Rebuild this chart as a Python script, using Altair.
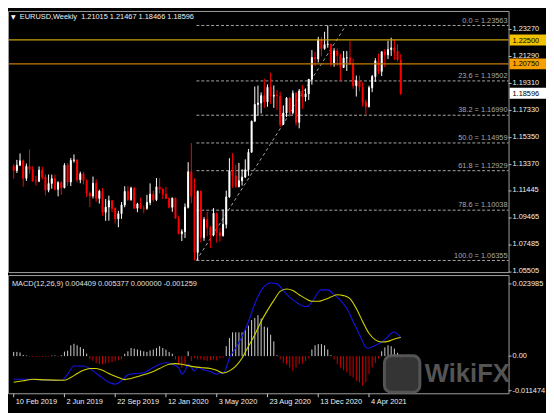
import altair as alt
import pandas as pd

# ---------------- data ----------------
date_labels = ["10 Feb 2019", "2 Jun 2019", "22 Sep 2019", "12 Jan 2020",
               "3 May 2020", "23 Aug 2020", "13 Dec 2020", "4 Apr 2021"]
date_label_week = [0, 16, 32, 48, 64, 80, 96, 112]

opens = [1.1325,1.1294,1.1333,1.1365,1.1237,1.1325,1.1302,1.1217,1.1216,1.1297,
         1.1246,1.1150,1.1200,1.1234,1.1157,1.1205,1.1168,1.1333,1.1210,1.1368,
         1.1372,1.1226,1.1270,1.1220,1.1127,1.1108,1.1201,1.1090,1.1143,1.0989,
         1.1027,1.1073,1.1017,1.0940,1.0978,1.1042,1.1141,1.1081,1.1165,1.1018,
         1.1050,1.1018,1.1017,1.1060,1.1121,1.1080,1.1175,1.1157,1.1120,1.1090,
         1.1025,1.1092,1.0944,1.0831,1.0846,1.1025,1.1285,1.1106,1.0694,1.1142,
         1.0803,1.0935,1.0875,1.0822,1.0982,1.0839,1.0818,1.0900,1.1101,1.1290,
         1.1255,1.1176,1.1219,1.1246,1.1300,1.1428,1.1655,1.1778,1.1788,1.1842,
         1.1796,1.1904,1.1838,1.1845,1.1840,1.1632,1.1715,1.1826,1.1718,1.1860,
         1.1647,1.1876,1.1833,1.1856,1.1962,1.2121,1.2111,1.2254,1.2187,1.2216,
         1.2219,1.2083,1.2170,1.2136,1.2048,1.2118,1.2120,1.2075,1.1915,1.1953,
         1.1904,1.1793,1.1763,1.1900,1.1982,1.2097,1.2020,1.2164,1.2141,1.2180,
         1.2192,1.2167,1.21015]
highs = [1.1342,1.1372,1.1419,1.1375,1.1345,1.1448,1.1326,1.1255,1.1324,1.1323,
         1.1265,1.1265,1.1264,1.1264,1.1216,1.1215,1.1348,1.1348,1.1386,1.1412,
         1.1375,1.1286,1.1283,1.1230,1.1141,1.1250,1.1230,1.1154,1.1165,1.1085,
         1.1110,1.1076,1.1025,1.0999,1.1063,1.1179,1.1179,1.1176,1.1173,1.1058,
         1.1097,1.1036,1.1116,1.1200,1.1146,1.1239,1.1239,1.1164,1.1173,1.1098,
         1.1096,1.1095,1.0964,1.0864,1.1053,1.1355,1.1495,1.1236,1.1147,1.1147,
         1.0953,1.0990,1.0888,1.1019,1.0985,1.0875,1.1009,1.1147,1.1384,1.1422,
         1.1338,1.1350,1.1304,1.1376,1.1452,1.1660,1.1909,1.1916,1.1866,1.1966,
         1.1925,1.2011,1.1917,1.1882,1.1872,1.1771,1.1832,1.1831,1.1881,1.1870,
         1.1891,1.1920,1.1893,1.1964,1.2176,1.2164,1.2273,1.2272,1.2310,1.2356,
         1.2222,1.2190,1.2189,1.2150,1.2169,1.2169,1.2244,1.2113,1.1990,1.1989,
         1.1941,1.1814,1.1915,1.1994,1.2117,1.2150,1.2165,1.2183,1.2245,1.2266,
         1.2254,1.2218,1.21467]
lows = [1.1234,1.1276,1.1328,1.1176,1.1218,1.1270,1.1213,1.1183,1.1209,1.1228,
        1.1112,1.1135,1.1161,1.1149,1.1105,1.1116,1.1164,1.1181,1.1180,1.1352,
        1.1207,1.1201,1.1192,1.1101,1.1027,1.1090,1.1065,1.1052,1.0965,1.0926,
        1.0927,1.0990,1.0905,1.0879,1.0940,1.1025,1.1072,1.1073,1.1015,1.0989,
        1.1015,1.0981,1.1007,1.1040,1.1065,1.1070,1.1126,1.1086,1.1085,1.1017,
        1.0992,1.0940,1.0827,1.0778,1.0800,1.1016,1.1054,1.0636,1.0637,1.0768,
        1.0780,1.0813,1.0727,1.0812,1.0767,1.0774,1.0810,1.0870,1.1095,1.1167,
        1.1168,1.1171,1.1184,1.1240,1.1255,1.1426,1.1652,1.1696,1.1712,1.1753,
        1.1761,1.1782,1.1753,1.1737,1.1612,1.1628,1.1686,1.1688,1.1705,1.1622,
        1.1603,1.1746,1.1800,1.1811,1.1923,1.2059,1.2085,1.2130,1.2179,1.2193,
        1.2054,1.2054,1.2058,1.1952,1.2047,1.2023,1.2066,1.1893,1.1836,1.1874,
        1.1762,1.1704,1.1755,1.1868,1.1943,1.2000,1.1986,1.2051,1.2110,1.2133,
        1.2104,1.2094,1.18466]
closes = [1.1294,1.1333,1.1365,1.1237,1.1325,1.1302,1.1217,1.1216,1.1297,1.1246,
          1.1150,1.1200,1.1234,1.1157,1.1205,1.1168,1.1333,1.1210,1.1368,1.1372,
          1.1226,1.1270,1.1220,1.1127,1.1108,1.1201,1.1090,1.1143,1.0989,1.1027,
          1.1073,1.1017,1.0940,1.0978,1.1042,1.1141,1.1081,1.1165,1.1018,1.1050,
          1.1018,1.1017,1.1060,1.1121,1.1080,1.1175,1.1157,1.1120,1.1090,1.1025,
          1.1092,1.0944,1.0831,1.0846,1.1025,1.1285,1.1106,1.0694,1.1142,1.0803,
          1.0935,1.0875,1.0822,1.0982,1.0839,1.0818,1.0900,1.1101,1.1290,1.1255,
          1.1176,1.1219,1.1246,1.1300,1.1428,1.1655,1.1778,1.1788,1.1842,1.1796,
          1.1904,1.1838,1.1845,1.1840,1.1632,1.1715,1.1826,1.1718,1.1860,1.1647,
          1.1876,1.1833,1.1856,1.1962,1.2121,1.2111,1.2254,1.2187,1.2216,1.2219,
          1.2083,1.2170,1.2136,1.2048,1.2118,1.2120,1.2075,1.1915,1.1953,1.1904,
          1.1793,1.1763,1.1900,1.1982,1.2097,1.2020,1.2164,1.2141,1.2180,1.2192,
          1.2167,1.2106,1.18596]

price_ticks = [1.23270, 1.21290, 1.19310, 1.17330, 1.15350, 1.13370,
               1.11445, 1.09465, 1.07485, 1.05505]
price_tick_labels = ["1.23270", "1.21290", "1.19310", "1.17330", "1.15350",
                     "1.13370", "1.11445", "1.09465", "1.07485", "1.05505"]

fib_pct = ["0.0", "23.6", "38.2", "50.0", "61.8", "78.6", "100.0"]
fib_price = [1.23563, 1.19502, 1.16990, 1.14959, 1.12929, 1.10038, 1.06355]
fib_start_week = 57.6
fib_diag_week = [57.6, 104.7]
fib_diag_price = [1.06355, 1.23563]

level_price = [1.22500, 1.20750]
level_color = ["#C9A00A", "#C87A0A"]
box_price = [1.22500, 1.20750, 1.18596]
box_label = ["1.22500", "1.20750", "1.18596"]
box_color = ["#F2C200", "#F5A000", "#FFFFFF"]

# MACD values in units of 0.001
hist = [1.4,1.4,1.2,0.4,0.2,-0.2,-0.3,-0.3,-0.2,-0.3,
        -0.3,-0.2,0.2,0.2,-0.2,0.3,1.5,1.8,3.6,4.1,
        3.6,3.0,2.4,0.8,-0.9,-1.6,-2.2,-2.7,-2.7,-2.5,
        -2.2,-2.0,-1.6,-1.4,-1.1,0.8,1.6,2.7,2.5,2.2,
        1.9,1.6,1.4,1.9,2.2,2.7,3.3,2.7,2.2,1.4,
        0.8,-1.1,-2.7,-3.8,-2.7,1.6,-1.6,-0.6,-1.1,-1.1,
        -1.4,-1.6,-1.4,-1.1,-1.4,-0.8,-0.5,3.3,6.0,7.9,
        7.9,7.9,7.9,8.7,10.1,12.0,12.7,13.6,12.5,9.8,
        9.5,7.1,4.9,0.3,-1.1,-2.2,-2.7,-3.8,-4.9,-3.8,
        -2.7,-2.5,-1.6,-0.8,2.2,3.6,4.0,4.0,3.6,2.2,
        0.3,-1.1,-2.7,-3.8,-4.7,-5.4,-6.5,-7.1,-8.2,-8.7,
        -9.8,-8.7,-6.0,-3.8,-2.2,-0.8,1.6,2.9,3.6,3.3,
        2.5,1.1,-1.26]
blue_week = [0,4,15,17,19,22,25,27,30,32,34,36,38,41,44,46,48,50,52,53,
             54,55,56,57,58,60,62,64,65,66,67,68,70,72,74,76,78,79,81,83,
             85,87,89,91,92,93,94,95,96,97,99,101,103,105,107,109,110,111,112,114,
             116,118,119,120,121,122]
blue_val = [-7.7,-7.7,-8.1,-6.0,-3.3,-3.3,-4.9,-6.5,-8.7,-9.3,-8.2,-6.2,-5.8,-5.5,-3.8,-2.7,-2.2,-2.7,-3.8,-6.0,
            -4.9,-2.7,-3.8,-4.9,-3.8,-4.6,-5.1,-6.0,-5.5,-5.8,-3.8,-0.6,2.7,6.5,11.5,17.4,21.8,23.2,24.3,24.0,
            21.8,19.6,18.0,16.7,16.4,16.7,18.0,19.6,21.3,22.0,22.0,20.4,18.5,15.8,11.5,7.1,4.9,2.9,2.7,3.6,
            4.7,6.5,7.6,8.0,7.3,6.2]
yellow_week = [0,3,6,10,16,18,20,22,24,26,28,30,33,35,37,40,43,46,49,51,
               53,56,59,62,64,66,68,70,72,74,76,78,80,82,84,86,88,90,92,94,
               96,98,100,102,104,106,108,110,112,114,116,118,120,122]
yellow_val = [-8.7,-8.2,-7.7,-7.9,-8.0,-7.1,-5.8,-4.7,-4.1,-4.1,-4.7,-5.8,-7.1,-7.8,-7.4,-6.5,-5.5,-4.1,-2.7,-2.5,
              -2.7,-3.4,-3.8,-4.1,-4.7,-5.6,-4.9,-3.3,-0.6,3.3,7.1,11.5,15.2,18.5,21.5,22.3,21.8,20.4,19.1,18.2,
              18.2,18.8,19.6,20.4,20.1,19.1,15.8,11.5,7.6,5.4,4.7,4.9,5.7,6.2]
macd_ticks = [23.985, 0.0, -11.474]
macd_tick_labels = ["0.023985", "0.00", "-0.011474"]

title_text = "EURUSD,Weekly\u00a0\u00a01.21015 1.21467 1.18466 1.18596"
macd_title = "MACD(12,26,9) 0.004409 0.005377 0.000000 -0.001259"

# ---------------- layout ----------------
W, H = 508, 388          # plot area: both panels
MAIN_BOTTOM = 265
MACD_TOP, MACD_BOTTOM = 268, 388
FONT = "Liberation Sans"
FS = 7.5

xs = alt.Scale(domain=[-0.24, 154.44], nice=False, zero=False)
ys_main = alt.Scale(domain=[1.05505, 1.24624], range=[MAIN_BOTTOM, 0], nice=False, zero=False)
ys_macd = alt.Scale(domain=[-12.34, 26.93], range=[MACD_BOTTOM, MACD_TOP], nice=False, zero=False)

candles = pd.DataFrame({"w": list(range(len(opens))), "o": opens, "h": highs, "l": lows, "c": closes})
bull = candles[candles["c"] >= candles["o"]]
bear = candles[candles["c"] < candles["o"]]

X = alt.X("w:Q", scale=xs, axis=None)
one = pd.DataFrame({"k": [0]})


def candle_layers(df, col):
    wick = alt.Chart(df).mark_rule(strokeWidth=1, color=col).encode(
        x=X, y=alt.Y("l:Q", scale=ys_main, axis=None), y2="h:Q")
    body = alt.Chart(df).mark_bar(size=1, color=col, stroke=col, strokeWidth=1).encode(
        x=X, y=alt.Y("o:Q", scale=ys_main, axis=None), y2="c:Q")
    return [wick, body]


fib_df = pd.DataFrame({"p": fib_price, "pct": fib_pct, "w": [fib_start_week] * len(fib_price)})
fib_df["lbl"] = fib_df["pct"] + " = " + fib_df["p"].map(lambda v: f"{v:.5f}")
fib_lines = alt.Chart(fib_df).mark_rule(color="#A8A8A8", strokeWidth=1, strokeDash=[3, 2]).encode(
    x=X, x2=alt.value(W), y=alt.Y("p:Q", scale=ys_main, axis=None))
fib_text = alt.Chart(fib_df).mark_text(align="right", baseline="bottom", dy=-1, font=FONT,
                                       fontSize=FS, color="#A8A8A8").encode(
    x=alt.value(W - 1), y=alt.Y("p:Q", scale=ys_main, axis=None), text="lbl:N")
diag_df = pd.DataFrame({"w": fib_diag_week, "p": fib_diag_price})
diag = alt.Chart(diag_df).mark_line(color="#A8A8A8", strokeWidth=1, strokeDash=[3, 3]).encode(
    x=X, y=alt.Y("p:Q", scale=ys_main, axis=None))

lvl_df = pd.DataFrame({"p": level_price, "col": level_color})
levels = alt.Chart(lvl_df).mark_rule(strokeWidth=1.3).encode(
    x=alt.value(0), x2=alt.value(W), y=alt.Y("p:Q", scale=ys_main, axis=None),
    color=alt.Color("col:N", scale=None))

pt_df = pd.DataFrame({"p": price_ticks, "lbl": price_tick_labels})
p_ticks = alt.Chart(pt_df).mark_rule(color="#C8C8C8").encode(
    x=alt.value(W), x2=alt.value(W + 3), y=alt.Y("p:Q", scale=ys_main, axis=None))
p_text = alt.Chart(pt_df).mark_text(align="left", baseline="middle", dy=-0.7, font=FONT, fontSize=FS,
                                    color="#F0F0F0").encode(
    x=alt.value(W + 4), y=alt.Y("p:Q", scale=ys_main, axis=None), text="lbl:N")

box_df = pd.DataFrame({"p": box_price, "lbl": box_label, "col": box_color})
boxes = alt.Chart(box_df).transform_calculate(
    top="datum.p + 5.5/1386", bot="datum.p - 5.5/1386").mark_rect().encode(
    x=alt.value(W + 1), x2=alt.value(W + 38), y=alt.Y("top:Q", scale=ys_main, axis=None),
    y2="bot:Q", color=alt.Color("col:N", scale=None))
box_text = alt.Chart(box_df).mark_text(align="left", baseline="middle", dy=0.6, font=FONT, fontSize=FS,
                                       color="#000000").encode(
    x=alt.value(W + 4), y=alt.Y("p:Q", scale=ys_main, axis=None), text="lbl:N")

main = alt.layer(fib_lines, diag, *candle_layers(bull, "#FFFFFF"), *candle_layers(bear, "#FF0000"),
                 levels, fib_text, p_ticks, p_text, boxes, box_text)

# MACD panel
hdf = pd.DataFrame({"w": list(range(len(hist))), "v": hist, "z": [0.0] * len(hist)})
hpos = hdf[hdf["v"] >= 0]
hneg = hdf[hdf["v"] < 0]
hist_pos = alt.Chart(hpos).mark_rule(strokeWidth=1, color="#D0D0D0").encode(
    x=X, y=alt.Y("z:Q", scale=ys_macd, axis=None), y2="v:Q")
hist_neg = alt.Chart(hneg).mark_rule(strokeWidth=1, color="#D00000").encode(
    x=X, y=alt.Y("z:Q", scale=ys_macd, axis=None), y2="v:Q")
blue = alt.Chart(pd.DataFrame({"w": blue_week, "v": blue_val})).mark_line(
    color="#1414E6", strokeWidth=1.1, interpolate="monotone").encode(
    x=X, y=alt.Y("v:Q", scale=ys_macd, axis=None))
yellow = alt.Chart(pd.DataFrame({"w": yellow_week, "v": yellow_val})).mark_line(
    color="#D2D200", strokeWidth=1.1, interpolate="monotone").encode(
    x=X, y=alt.Y("v:Q", scale=ys_macd, axis=None))
mt_df = pd.DataFrame({"v": macd_ticks, "lbl": macd_tick_labels})
m_ticks = alt.Chart(mt_df).mark_rule(color="#C8C8C8").encode(
    x=alt.value(W), x2=alt.value(W + 3), y=alt.Y("v:Q", scale=ys_macd, axis=None))
m_text = alt.Chart(mt_df).mark_text(align="left", baseline="middle", font=FONT, fontSize=FS,
                                    color="#F0F0F0").encode(
    x=alt.value(W + 4), y=alt.Y("v:Q", scale=ys_macd, axis=None), text="lbl:N")
macd = alt.layer(hist_pos, hist_neg, blue, yellow, m_ticks, m_text)

# date axis
dd = pd.DataFrame({"w": date_label_week, "lbl": date_labels})
d_ticks = alt.Chart(dd).mark_rule(color="#C8C8C8").encode(
    x=X, y=alt.value(MACD_BOTTOM), y2=alt.value(MACD_BOTTOM + 4))
d_text = alt.Chart(dd).mark_text(align="left", baseline="middle", dx=2, font=FONT, fontSize=FS,
                                  color="#F0F0F0").encode(x=X, y=alt.value(MACD_BOTTOM + 8.5), text="lbl:N")

# frames and titles
frame_main = alt.Chart(one).mark_rect(fillOpacity=0, stroke="#A0A0A0", strokeWidth=1).encode(
    x=alt.value(0.5), x2=alt.value(W + 0.5), y=alt.value(0.5), y2=alt.value(MAIN_BOTTOM + 0.5))
frame_macd = alt.Chart(one).mark_rect(fillOpacity=0, stroke="#A0A0A0", strokeWidth=1).encode(
    x=alt.value(0.5), x2=alt.value(W + 0.5), y=alt.value(MACD_TOP + 0.5), y2=alt.value(MACD_BOTTOM + 0.5))
tri = alt.Chart(one).mark_text(text="\u25BC", font="DejaVu Sans", fontSize=6, color="#FFFFFF",
                               align="left", baseline="middle").encode(x=alt.value(3), y=alt.value(6))
title = alt.Chart(one).mark_text(text=title_text, font=FONT, fontSize=FS, color="#F0F0F0",
                                 align="left", baseline="middle").encode(x=alt.value(12), y=alt.value(6))
mtitle = alt.Chart(one).mark_text(text=macd_title, font=FONT, fontSize=FS, color="#E0E0E0",
                                  align="left", baseline="middle").encode(x=alt.value(4), y=alt.value(MACD_TOP + 9))

# watermark
wm_icon = alt.Chart(one).mark_rect(cornerRadius=7, fill="#3A3A3A", stroke="#5E5E5E", strokeWidth=3,
                                   opacity=0.9).encode(
    x=alt.value(382), x2=alt.value(418), y=alt.value(350), y2=alt.value(387))
wm_text = alt.Chart(one).mark_text(text="WikiFX", font="Liberation Sans", fontWeight="bold", fontSize=26,
                                   color="#5E5E5E", opacity=0.9, align="left",
                                   baseline="alphabetic").encode(x=alt.value(423), y=alt.value(377))

chart = alt.layer(
    main, macd, d_ticks, d_text, frame_main, frame_macd, tri, title, mtitle, wm_icon, wm_text
).resolve_scale(y="independent").properties(
    width=W, height=H,
    padding={"left": 0, "top": 0, "right": 38, "bottom": 17},
    autosize=alt.AutoSizeParams(type="none"),
    background="#000000",
).configure_view(stroke=None)

chart.save("out.html", embed_options={"renderer": "svg", "actions": False})
